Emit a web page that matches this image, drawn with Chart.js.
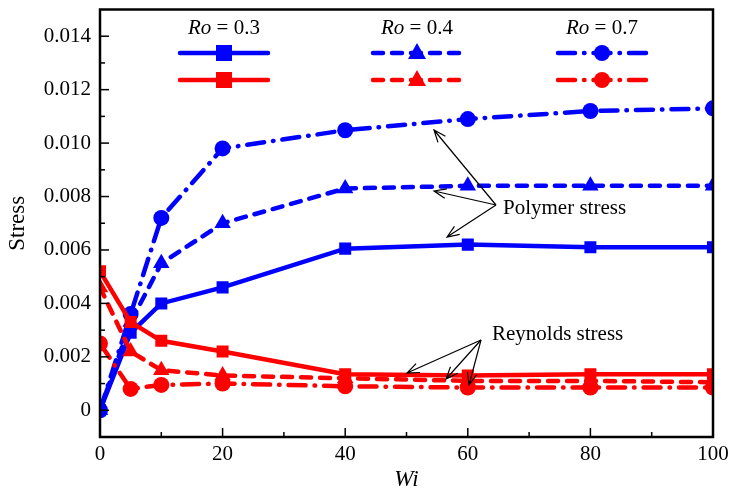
<!DOCTYPE html>
<html>
<head>
<meta charset="utf-8">
<script src="https://cdn.jsdelivr.net/npm/chart.js@4"></script>
<style>
  html, body { margin: 0; padding: 0; background: #fff; }
  #wrap { width: 729px; height: 490px; }
</style>
</head>
<body>
<div id="wrap"><canvas id="stressChart"></canvas></div>
<script>
// Wi values
const wiValues = [0, 5, 10, 20, 40, 60, 80, 100];

// Polymer stress (blue)
const polyRo03 = [0, 0.0029, 0.0040, 0.0046, 0.00605, 0.0062, 0.0061, 0.0061];
const polyRo04 = [0, 0.0033, 0.0055, 0.0070, 0.0083, 0.0084, 0.0084, 0.0084];
const polyRo07 = [0, 0.0036, 0.0072, 0.0098, 0.01048, 0.0109, 0.0112, 0.0113];

// Reynolds stress (red)
const reyRo03 = [0.0052, 0.0033, 0.0026, 0.0022, 0.00135, 0.0013, 0.00135, 0.00135];
const reyRo04 = [0.0046, 0.0022, 0.0015, 0.0013, 0.0012, 0.0011, 0.0011, 0.00105];
const reyRo07 = [0.0025, 0.0008, 0.00095, 0.001, 0.0009, 0.00085, 0.00085, 0.00085];

const yTicks = [0, 0.002, 0.004, 0.006, 0.008, 0.010, 0.012, 0.014];
const xTicks = [0, 20, 40, 60, 80, 100];
const legendTitles = ['0.3', '0.4', '0.7'];

const BLUE = '#0000ff';
const RED = '#ff0000';
const SOLID = [];
const DASH = [10, 9];
const DASHDOT = [17, 9, 0.5, 9];

function pts(ys) {
    return wiValues.map(function(x, i) { return { x: x, y: ys[i] }; });
}

function makeSet(label, ys, color, dash, marker) {
    return {
        label: label,
        data: pts(ys),
        borderColor: color,
        backgroundColor: color,
        borderWidth: 4.5,
        borderDash: dash,
        borderCapStyle: 'round',
        pointStyle: marker,
        pointRadius: marker === 'circle' ? 8 : (marker === 'triangle' ? 9.5 : 8.5),
        pointBorderWidth: 0,
        clip: 1,
        tension: 0
    };
}

var datasets = [
    makeSet('Reynolds Ro=0.7', reyRo07, RED, DASHDOT, 'circle'),
    makeSet('Reynolds Ro=0.4', reyRo04, RED, DASH, 'triangle'),
    makeSet('Reynolds Ro=0.3', reyRo03, RED, SOLID, 'rect'),
    makeSet('Polymer Ro=0.7', polyRo07, BLUE, DASHDOT, 'circle'),
    makeSet('Polymer Ro=0.4', polyRo04, BLUE, DASH, 'triangle'),
    makeSet('Polymer Ro=0.3', polyRo03, BLUE, SOLID, 'rect')
];

const SERIF = '"Liberation Serif", "DejaVu Serif", serif';

// ---- helpers for drawing ---- //
function drawMarker(ctx, style, x, y, color) {
    ctx.save();
    ctx.fillStyle = color;
    ctx.setLineDash([]);
    ctx.beginPath();
    if (style === 'rect') {
        ctx.rect(x - 8, y - 8, 16, 16);
    } else if (style === 'triangle') {
        ctx.moveTo(x, y - 10);
        ctx.lineTo(x + 9, y + 6);
        ctx.lineTo(x - 9, y + 6);
        ctx.closePath();
    } else {
        ctx.arc(x, y, 8, 0, Math.PI * 2);
    }
    ctx.fill();
    ctx.restore();
}

function arrow(ctx, x0, y0, x1, y1) {
    var ang = Math.atan2(y1 - y0, x1 - x0);
    var len = 13, spread = 0.38;
    ctx.beginPath();
    ctx.moveTo(x0, y0);
    ctx.lineTo(x1, y1);
    ctx.moveTo(x1 - len * Math.cos(ang - spread), y1 - len * Math.sin(ang - spread));
    ctx.lineTo(x1, y1);
    ctx.lineTo(x1 - len * Math.cos(ang + spread), y1 - len * Math.sin(ang + spread));
    ctx.stroke();
}

// inward ticks + box border
var framePlugin = {
    id: 'frame',
    afterDatasetsDraw: function(chart) {
        var ctx = chart.ctx;
        var a = chart.chartArea;
        var xs = chart.scales.x, ys = chart.scales.y;
        ctx.save();
        ctx.strokeStyle = '#000';
        ctx.lineWidth = 1.5;
        ctx.setLineDash([]);
        for (var v = 0; v <= 0.0145; v += 0.001) {
            var py = ys.getPixelForValue(v);
            var major = Math.round(v * 1000) % 2 === 0;
            ctx.beginPath();
            ctx.moveTo(a.left, py);
            ctx.lineTo(a.left + (major ? 9 : 5), py);
            ctx.stroke();
        }
        for (var w = 0; w <= 100; w += 10) {
            var px = xs.getPixelForValue(w);
            var majorX = w % 20 === 0;
            ctx.beginPath();
            ctx.moveTo(px, a.bottom);
            ctx.lineTo(px, a.bottom - (majorX ? 9 : 5));
            ctx.stroke();
        }
        ctx.lineWidth = 2.5;
        ctx.strokeRect(a.left, a.top, a.right - a.left, a.bottom - a.top);
        ctx.restore();
    }
};

// legend block + annotations
var notesPlugin = {
    id: 'notes',
    afterDraw: function(chart) {
        var ctx = chart.ctx;
        ctx.save();
        var cols = [224, 417, 602];
        var styles = [[SOLID, 'rect'], [DASH, 'triangle'], [DASHDOT, 'circle']];
        for (var i = 0; i < 3; i++) {
            var cx = cols[i];
            ctx.fillStyle = '#000';
            ctx.textBaseline = 'middle';
            var t1 = 'Ro';
            var t2 = ' = ' + legendTitles[i];
            ctx.font = 'italic 21px ' + SERIF;
            var w1 = ctx.measureText(t1).width;
            ctx.font = '21px ' + SERIF;
            var w2 = ctx.measureText(t2).width;
            var sx = cx - (w1 + w2) / 2;
            ctx.textAlign = 'left';
            ctx.font = 'italic 21px ' + SERIF;
            ctx.fillText(t1, sx, 28);
            ctx.font = '21px ' + SERIF;
            ctx.fillText(t2, sx + w1, 28);

            [[BLUE, 53], [RED, 80]].forEach(function(row) {
                ctx.strokeStyle = row[0];
                ctx.lineWidth = 4.5;
                ctx.lineCap = 'round';
                ctx.setLineDash(styles[i][0]);
                ctx.beginPath();
                ctx.moveTo(cx - 44, row[1]);
                ctx.lineTo(cx + 44, row[1]);
                ctx.stroke();
                drawMarker(ctx, styles[i][1], cx, row[1], row[0]);
            });
        }

        ctx.setLineDash([]);
        ctx.lineCap = 'butt';
        ctx.strokeStyle = '#000';
        ctx.lineWidth = 1.2;
        arrow(ctx, 496, 205, 434, 130);
        arrow(ctx, 496, 205, 434, 191);
        arrow(ctx, 496, 205, 447, 237);
        arrow(ctx, 481, 340, 407, 373);
        arrow(ctx, 481, 340, 446, 379);
        arrow(ctx, 481, 340, 469, 385);

        ctx.fillStyle = '#000';
        ctx.textAlign = 'left';
        ctx.textBaseline = 'middle';
        ctx.font = '21px ' + SERIF;
        ctx.fillText('Polymer stress', 503, 208);
        ctx.fillText('Reynolds stress', 492, 334);
        ctx.restore();
    }
};

var config = {
    type: 'line',
    data: { datasets: datasets },
    options: {
        responsive: false,
        animation: false,
        layout: { padding: { top: 8, right: 16, left: 0, bottom: 0 } },
        plugins: {
            legend: { display: false },
            tooltip: { enabled: false }
        },
        scales: {
            x: {
                type: 'linear',
                min: 0,
                max: 100,
                afterBuildTicks: function(scale) {
                    scale.ticks = xTicks.map(function(v) { return { value: v }; });
                },
                afterFit: function(scale) {
                    scale.height = 53;
                    scale.paddingLeft = 0;
                    scale.paddingRight = 0;
                },
                grid: { display: false, drawTicks: false },
                border: { display: false },
                ticks: {
                    color: '#000',
                    padding: 5,
                    maxRotation: 0,
                    font: { family: SERIF, size: 21 }
                },
                title: {
                    display: true,
                    text: 'Wi',
                    color: '#000',
                    padding: { top: 0, bottom: 0 },
                    font: { family: SERIF, size: 23, style: 'italic', lineHeight: 0.9 }
                }
            },
            y: {
                type: 'linear',
                min: -0.001,
                max: 0.015,
                afterBuildTicks: function(scale) {
                    scale.ticks = yTicks.map(function(v) { return { value: v }; });
                },
                afterFit: function(scale) {
                    scale.width = 100;
                    scale.paddingTop = 0;
                    scale.paddingBottom = 0;
                },
                grid: { display: false, drawTicks: false },
                border: { display: false },
                ticks: {
                    color: '#000',
                    padding: 9,
                    font: { family: SERIF, size: 21 },
                    callback: function(v) { return v === 0 ? '0' : v.toFixed(3); }
                },
                title: {
                    display: true,
                    text: 'Stress',
                    color: '#000',
                    padding: { top: 4, bottom: 0 },
                    font: { family: SERIF, size: 23 }
                }
            }
        }
    },
    plugins: [framePlugin, notesPlugin]
};

var canvas = document.getElementById('stressChart');
canvas.width = 729;
canvas.height = 490;
var stressChart = new Chart(canvas, config);
</script>
</body>
</html>
